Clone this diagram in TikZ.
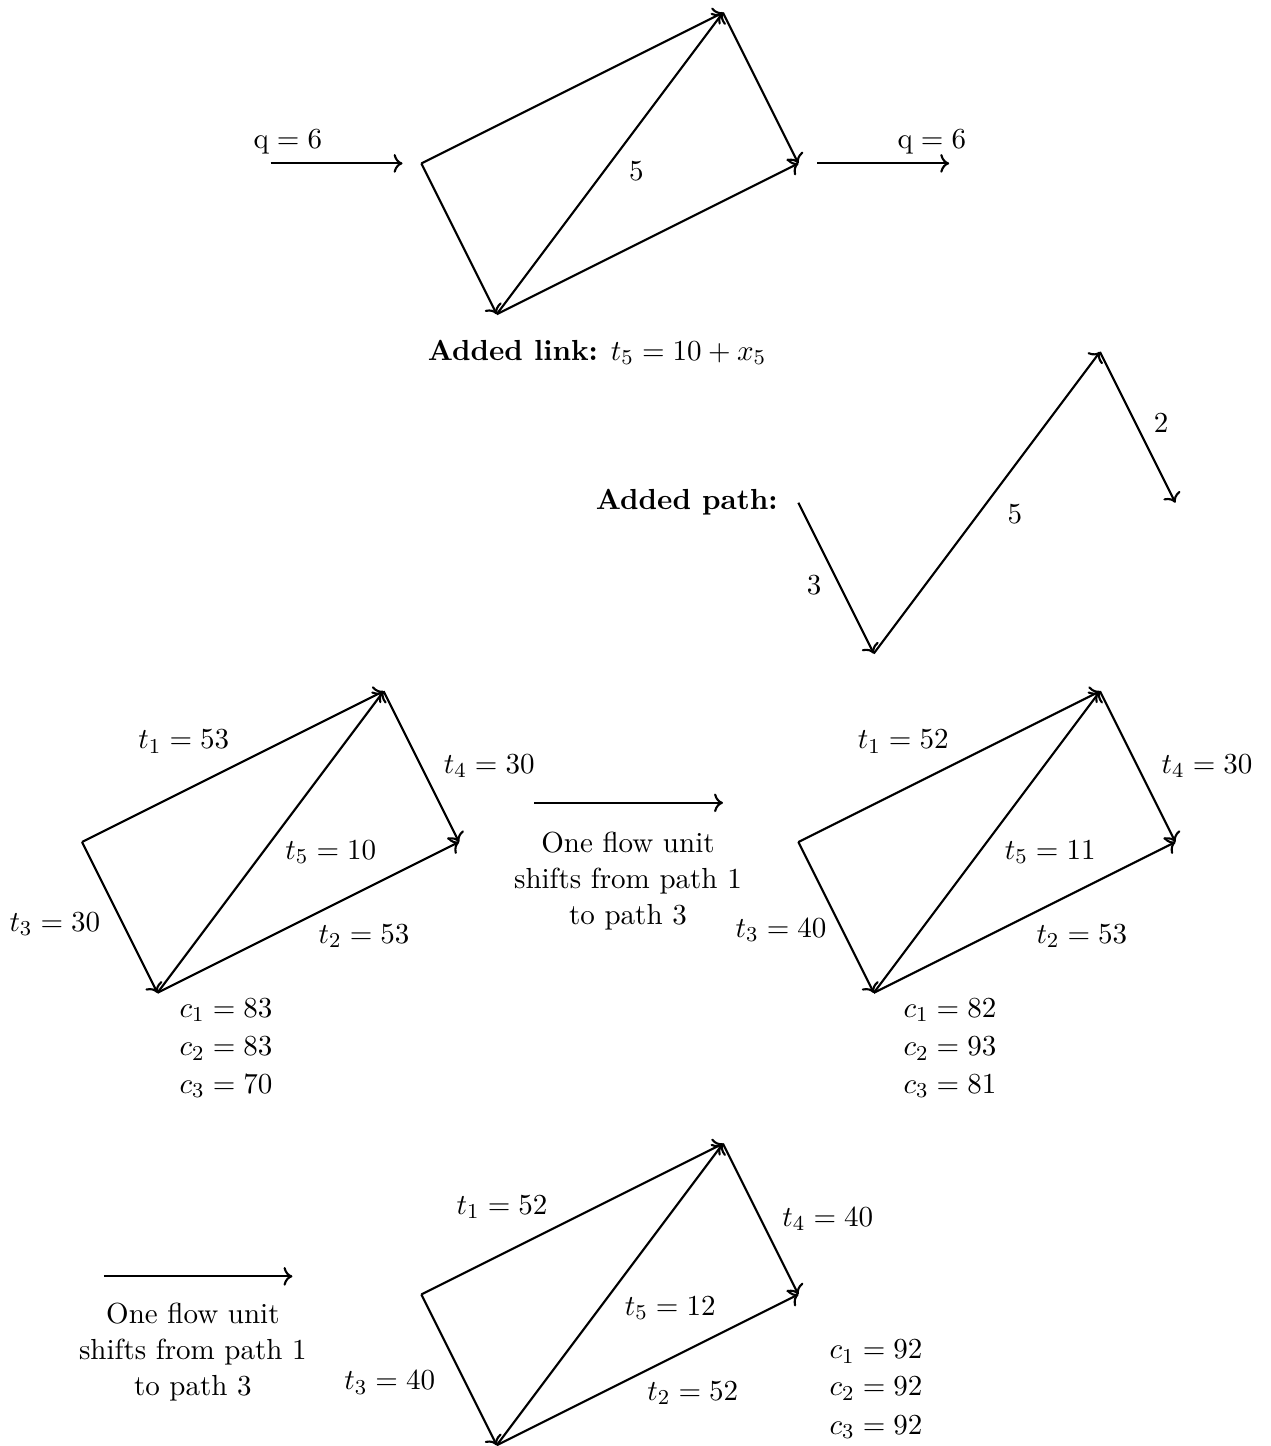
\documentclass[11pt,tikz,border=0pt]{standalone}
\usepackage{amsmath}
\usepackage{tikz}
\usetikzlibrary{arrows.meta, positioning, calc}

\begin{document}
\begin{tikzpicture}[thick]

        \useasboundingbox (-1.088,-8.01) rectangle (15.756,11.167);

        %=====================
        % Network with the added link
        %=====================
        \begin{scope}[shift={(4.5,9)}]
        \coordinate (top-a) at (0,0);
        \coordinate (top-b) at (4,2);
        \coordinate (top-c) at (5,0);
        \coordinate (top-d) at (1,-2);

        \draw[->] (top-a) -- (top-b);
        \draw[->] (top-b) -- (top-c);
        \draw[->] (top-a) -- (top-d);
        \draw[->] (top-d) -- (top-c);
        \draw[->] (top-d) -- (top-b);

        \node (top-l5) at (2.85,-0.1) {5};

        % Demand in and out
        \coordinate (in-s) at (-2,0);
        \coordinate (in-e) at (-0.25,0);
        \coordinate (out-s) at (5.25,0);
        \coordinate (out-e) at (7,0);
        \draw[->] (in-s) -- (in-e);
        \draw[->] (out-s) -- (out-e);
        \node (in-q) at (-1.77,0.29) {$\mathrm{q} = 6$};
        \node (out-q) at (6.77,0.29) {$\mathrm{q} = 6$};

        \node (top-note) at (2.33,-2.51) {\textbf{Added link:} $t_5 = 10 + x_5$};
        \end{scope}

        %=====================
        % Added path
        %=====================
        \coordinate (p-a) at (9.5,4.5);
        \coordinate (p-d) at (10.5,2.5);
        \coordinate (p-b) at (13.5,6.5);
        \coordinate (p-c) at (14.5,4.5);
        \draw[->] (p-a) -- (p-d);
        \draw[->] (p-d) -- (p-b);
        \draw[->] (p-b) -- (p-c);

        \node (p-l3) at (9.71,3.4) {3};
        \node (p-l5) at (12.37,4.35) {5};
        \node (p-l2) at (14.31,5.56) {2};
        \node (p-note) at (8.02,4.51) {\textbf{Added path:}};

        %=====================
        % Initial equilibrium
        %=====================
        \coordinate (l-a) at (0,0);
        \coordinate (l-b) at (4,2);
        \coordinate (l-c) at (5,0);
        \coordinate (l-d) at (1,-2);

        \draw[->] (l-a) -- (l-b);
        \draw[->] (l-b) -- (l-c);
        \draw[->] (l-a) -- (l-d);
        \draw[->] (l-d) -- (l-c);
        \draw[->] (l-d) -- (l-b);

        \node (l-t1) at (1.35,1.33) {$t_1 = 53$};
        \node (l-t4) at (5.40,1.01) {$t_4 = 30$};
        \node (l-t5) at (3.30,-0.13) {$t_5 = 10$};
        \node (l-t3) at (-0.36,-1.09) {$t_3 = 30$};
        \node (l-t2) at (3.74,-1.25) {$t_2 = 53$};

        \node (l-c1) at (1.91,-2.23) {$c_1 = 83$};
        \node (l-c2) at (1.91,-2.74) {$c_2 = 83$};
        \node (l-c3) at (1.91,-3.24) {$c_3 = 70$};

        % First shift
        \coordinate (s1-s) at (6,0.52);
        \coordinate (s1-e) at (8.5,0.52);
        \draw[->] (s1-s) -- (s1-e);
        \node[align=center] (s1-text) at (7.24,-0.52)
        {One flow unit\\shifts from path 1\\to path 3};

        %=====================
        % After the first shift
        %=====================
        \begin{scope}[shift={(9.5,0)}]
        \coordinate (r-a) at (0,0);
        \coordinate (r-b) at (4,2);
        \coordinate (r-c) at (5,0);
        \coordinate (r-d) at (1,-2);

        \draw[->] (r-a) -- (r-b);
        \draw[->] (r-b) -- (r-c);
        \draw[->] (r-a) -- (r-d);
        \draw[->] (r-d) -- (r-c);
        \draw[->] (r-d) -- (r-b);

        \node (r-t1) at (1.39,1.33) {$t_1 = 52$};
        \node (r-t4) at (5.42,1.01) {$t_4 = 30$};
        \node (r-t5) at (3.34,-0.13) {$t_5 = 11$};
        \node (r-t3) at (-0.23,-1.17) {$t_3 = 40$};
        \node (r-t2) at (3.76,-1.25) {$t_2 = 53$};

        \node (r-c1) at (2.01,-2.23) {$c_1 = 82$};
        \node (r-c2) at (2.01,-2.74) {$c_2 = 93$};
        \node (r-c3) at (2.01,-3.24) {$c_3 = 81$};
        \end{scope}

        % Second shift
        \coordinate (s2-s) at (0.29,-5.76);
        \coordinate (s2-e) at (2.79,-5.76);
        \draw[->] (s2-s) -- (s2-e);
        \node[align=center] (s2-text) at (1.47,-6.76)
        {One flow unit\\shifts from path 1\\to path 3};

        %=====================
        % After the second shift
        %=====================
        \begin{scope}[shift={(4.5,-6)}]
        \coordinate (b-a) at (0,0);
        \coordinate (b-b) at (4,2);
        \coordinate (b-c) at (5,0);
        \coordinate (b-d) at (1,-2);

        \draw[->] (b-a) -- (b-b);
        \draw[->] (b-b) -- (b-c);
        \draw[->] (b-a) -- (b-d);
        \draw[->] (b-d) -- (b-c);
        \draw[->] (b-d) -- (b-b);

        \node (b-t1) at (1.07,1.16) {$t_1 = 52$};
        \node (b-t4) at (5.39,1.0) {$t_4 = 40$};
        \node (b-t5) at (3.30,-0.18) {$t_5 = 12$};
        \node (b-t3) at (-0.42,-1.17) {$t_3 = 40$};
        \node (b-t2) at (3.60,-1.31) {$t_2 = 52$};

        \node (b-c1) at (6.03,-0.76) {$c_1 = 92$};
        \node (b-c2) at (6.03,-1.25) {$c_2 = 92$};
        \node (b-c3) at (6.03,-1.76) {$c_3 = 92$};
        \end{scope}

\end{tikzpicture}
\end{document}
